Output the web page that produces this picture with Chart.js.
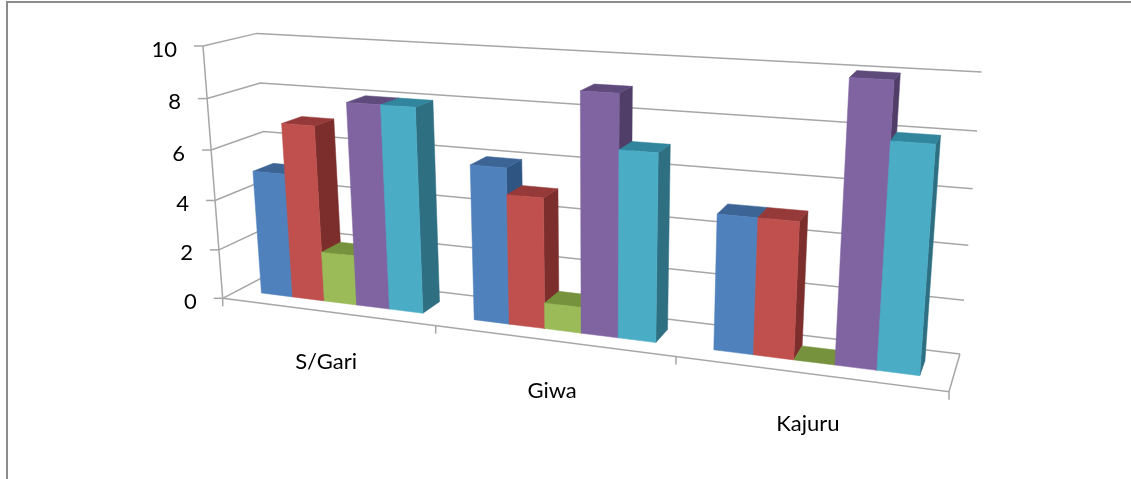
<!DOCTYPE html>
<html lang="en">
<head>
    <meta charset="UTF-8">
    <title>3-D clustered columns</title>
    <script src="https://cdn.jsdelivr.net/npm/chart.js"></script>
    <style>
        html, body { margin: 0; padding: 0; background: #fff; overflow: hidden; }
        #wrap { width: 1131px; height: 479px; }
        /* the original is a slightly soft scaled-up screenshot */
        #chart { filter: blur(0.4px); }
    </style>
</head>
<body>
    <div id="wrap"><canvas id="chart" width="1131" height="479"></canvas></div>

    <script>
        const categories = ['S/Gari', 'Giwa', 'Kajuru'];
        const valueTicks = [0, 2, 4, 6, 8, 10];

        const series1 = [5, 6, 5];
        const series2 = [7, 5, 5];
        const series3 = [2, 1, 0];
        const series4 = [8, 9, 10];
        const series5 = [8, 7, 8];

        const fronts = ['#4f81bd', '#c0504d', '#9bbb59', '#8064a2', '#4bacc6'];
        const tops = ['#3c6596', '#953a38', '#76923c', '#5f4a7c', '#31859c'];
        const sides = ['#2f5583', '#7c2e2c', '#5f7530', '#503e68', '#2f6f82'];

        // the box the chart stands in: corners of the floor and the left axis,
        // plus how much the view narrows along each direction
        const floorFront = [222.7, 298.3];
        const floorRight = [949, 391.7];
        const axisTop = [203, 46];
        const floorBack = [273, 272];
        const narrowX = -0.17, narrowY = -0.05, narrowZ = 0.06;
        const barFrontZ = 0.3, barBackZ = 0.7;   // gap depth 150%

        const stepX = [floorRight[0] * (1 + narrowX) - floorFront[0], floorRight[1] * (1 + narrowX) - floorFront[1]];
        const stepY = [axisTop[0] * (1 + narrowY) - floorFront[0], axisTop[1] * (1 + narrowY) - floorFront[1]];
        const stepZ = [floorBack[0] * (1 + narrowZ) - floorFront[0], floorBack[1] * (1 + narrowZ) - floorFront[1]];

        // u along the categories, v up the values, w into the picture (all 0..1)
        function project(u, v, w) {
            const d = 1 + narrowX * u + narrowY * v + narrowZ * w;
            return [
                (floorFront[0] + stepX[0] * u + stepY[0] * v + stepZ[0] * w) / d,
                (floorFront[1] + stepX[1] * u + stepY[1] * v + stepZ[1] * w) / d
            ];
        }

        function line(ctx, pts) {
            ctx.beginPath();
            pts.forEach((p, i) => i ? ctx.lineTo(p[0], p[1]) : ctx.moveTo(p[0], p[1]));
            ctx.stroke();
        }

        function face(ctx, pts, color) {
            ctx.beginPath();
            pts.forEach((p, i) => i ? ctx.lineTo(p[0], p[1]) : ctx.moveTo(p[0], p[1]));
            ctx.closePath();
            ctx.fillStyle = color;
            ctx.strokeStyle = color;
            ctx.lineWidth = 0.5;
            ctx.fill();
            ctx.stroke();
        }

        const box3d = {
            id: 'box3d',
            beforeDraw(chart) {
                const ctx = chart.ctx;
                const xs = chart.scales.x, ys = chart.scales.y;
                const toV = value => (ys.bottom - ys.getPixelForValue(value)) / (ys.bottom - ys.top);

                ctx.save();
                // outer frame, only top and left are in the picture
                ctx.strokeStyle = '#8c8c8c';
                ctx.lineWidth = 2;
                line(ctx, [[7, 479], [7, 2], [1131, 2]]);

                ctx.strokeStyle = '#a6a6a6';
                ctx.lineWidth = 1.5;
                ys.ticks.forEach(t => {
                    const v = toV(t.value);
                    line(ctx, [project(0, v, 0), project(0, v, 1), project(1, v, 1)]);
                });
                line(ctx, [project(0, 0, 0), project(0, 1, 0)]);
                line(ctx, [project(0, 0, 0), project(1, 0, 0), project(1, 0, 1)]);

                ctx.fillStyle = '#000';
                ctx.font = '22px Lato';
                ctx.textBaseline = 'middle';
                ctx.textAlign = 'right';
                ys.ticks.forEach(t => {
                    const p = project(0, toV(t.value), 0);
                    line(ctx, [[p[0] - 9, p[1]], p]);
                    ctx.fillText(String(t.value), p[0] - 26, p[1] + 3.5);
                });

                ctx.textAlign = 'center';
                for (let i = 0; i <= categories.length; i++) {
                    const p = project(i / categories.length, 0, 0);
                    line(ctx, [p, [p[0], p[1] + 8]]);
                }
                categories.forEach((name, i) => {
                    const p = project((i + 0.5) / categories.length, 0, 0);
                    ctx.fillText(name, p[0], p[1] + 50);
                });
                ctx.restore();
            },
            beforeDatasetsDraw(chart) {
                const ctx = chart.ctx;
                const area = chart.chartArea;
                const toU = x => (x - area.left) / area.width;
                const toV = y => (area.bottom - y) / area.height;

                ctx.save();
                // left to right so every column covers its neighbour's side
                categories.forEach((c, i) => {
                    chart.data.datasets.forEach((ds, s) => {
                        const bar = chart.getDatasetMeta(s).data[i].getProps(['x', 'y', 'base', 'width'], true);
                        const u0 = toU(bar.x - bar.width / 2), u1 = toU(bar.x + bar.width / 2);
                        const v0 = toV(bar.base), v1 = toV(bar.y);
                        face(ctx, [project(u1, v0, barFrontZ), project(u1, v0, barBackZ), project(u1, v1, barBackZ), project(u1, v1, barFrontZ)], sides[s]);
                        face(ctx, [project(u0, v1, barFrontZ), project(u0, v1, barBackZ), project(u1, v1, barBackZ), project(u1, v1, barFrontZ)], tops[s]);
                        if (v1 > v0) {
                            face(ctx, [project(u0, v0, barFrontZ), project(u1, v0, barFrontZ), project(u1, v1, barFrontZ), project(u0, v1, barFrontZ)], ds.backgroundColor);
                        }
                    });
                });
                ctx.restore();
                return false;
            }
        };

        new Chart(document.getElementById('chart').getContext('2d'), {
            type: 'bar',
            data: {
                labels: categories,
                datasets: [
                    { label: 'Series 1', data: series1, backgroundColor: fronts[0] },
                    { label: 'Series 2', data: series2, backgroundColor: fronts[1] },
                    { label: 'Series 3', data: series3, backgroundColor: fronts[2] },
                    { label: 'Series 4', data: series4, backgroundColor: fronts[3] },
                    { label: 'Series 5', data: series5, backgroundColor: fronts[4] }
                ]
            },
            options: {
                responsive: false,
                animation: false,
                layout: { padding: 0 },
                datasets: { bar: { barPercentage: 1, categoryPercentage: 5 / 6.5 } },
                plugins: { legend: { display: false }, title: { display: false }, tooltip: { enabled: false } },
                scales: {
                    x: { grid: { display: false }, border: { display: false }, ticks: { display: false } },
                    y: {
                        min: 0,
                        max: 10,
                        afterBuildTicks: scale => { scale.ticks = valueTicks.map(value => ({ value })); },
                        grid: { display: false },
                        border: { display: false },
                        ticks: { display: false }
                    }
                }
            },
            plugins: [box3d]
        });
    </script>
</body>
</html>
